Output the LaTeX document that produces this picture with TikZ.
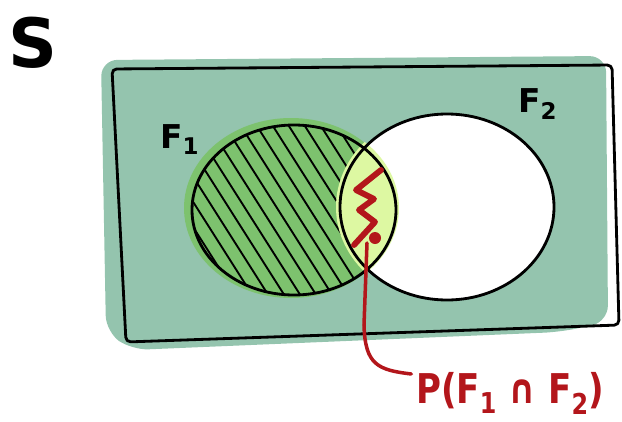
\documentclass[tikz,border=0pt]{standalone}
\usepackage{fontspec}
\setmainfont{DejaVu Sans}
\usetikzlibrary{positioning}
\definecolor{sage}{HTML}{94C4AE}
\definecolor{leaf}{HTML}{7DC26E}
\definecolor{lime}{HTML}{DDF8A2}
\definecolor{ink}{HTML}{B3161B}
\begin{document}
\begin{tikzpicture}[
        x=0.03cm, y=-0.03cm,
        outline/.style={draw=black, line width=2.4pt, line join=round, line cap=round},
        hatch/.style={draw=black, line width=1.6pt, line cap=round},
        redpen/.style={draw=ink, line width=3pt, line cap=round, line join=round},
        setname/.style={inner sep=0pt, anchor=base west},
        bigfont/.style={font=\fontsize{58}{58}\selectfont\bfseries},
        midfont/.style={font=\fontsize{28}{28}\selectfont\bfseries},
        redfont/.style={font=\fontsize{35}{35}\selectfont\bfseries, text=ink}
    ]
    \useasboundingbox (0,0) rectangle (622,421);
    \fill[sage, rounded corners=14] (101,60) -- (606,56) -- (608,322) -- (560,332) -- (132,350) -- (106,332) -- cycle;
    \fill[white] (447,207) ellipse [x radius=107, y radius=93];
    \fill[leaf] (291,208) ellipse [x radius=107, y radius=90];
    \begin{scope}
        \clip (294,210) ellipse [x radius=102, y radius=85];
        \foreach \x in {120,136,...,420}
            \draw[hatch] (\x,112) -- ++(122,192);
    \end{scope}
    \begin{scope}
        \clip (292,208) ellipse [x radius=107, y radius=90];
        \fill[lime] (447,207) ellipse [x radius=111, y radius=97];
    \end{scope}
    \draw[outline] (294,210) ellipse [x radius=102, y radius=85];
    \draw[outline] (447,207) ellipse [x radius=107, y radius=93];
    \draw[outline, rounded corners=4] (112,69) -- (612,65) -- (619,325) -- (126,342) -- cycle;
    \node[setname, bigfont] (s) at (8,67) {S};
    \node[setname, midfont] (f1) at (160,148) {F\textsubscript{1}};
    \node[setname, midfont] (f2) at (518,112) {F\textsubscript{2}};
    \node[setname, redfont] (pf) at (416,403) {\scalebox{0.83}[1]{P(F\textsubscript{1} ∩ F\textsubscript{2})}};
    \coordinate (zigend) at (367,243);
    \draw[redpen, line width=5pt] (381,170) -- (356,190) -- (374,199) -- (359,210) -- (375,222) -- (354,245);
    \fill[ink] (375,238) circle (6);
    \draw[redpen] (zigend) -- (364,325) .. controls (365,365) and (378,370) .. ([xshift=-4pt, yshift=-2pt]pf.north west);
\end{tikzpicture}
\end{document}
